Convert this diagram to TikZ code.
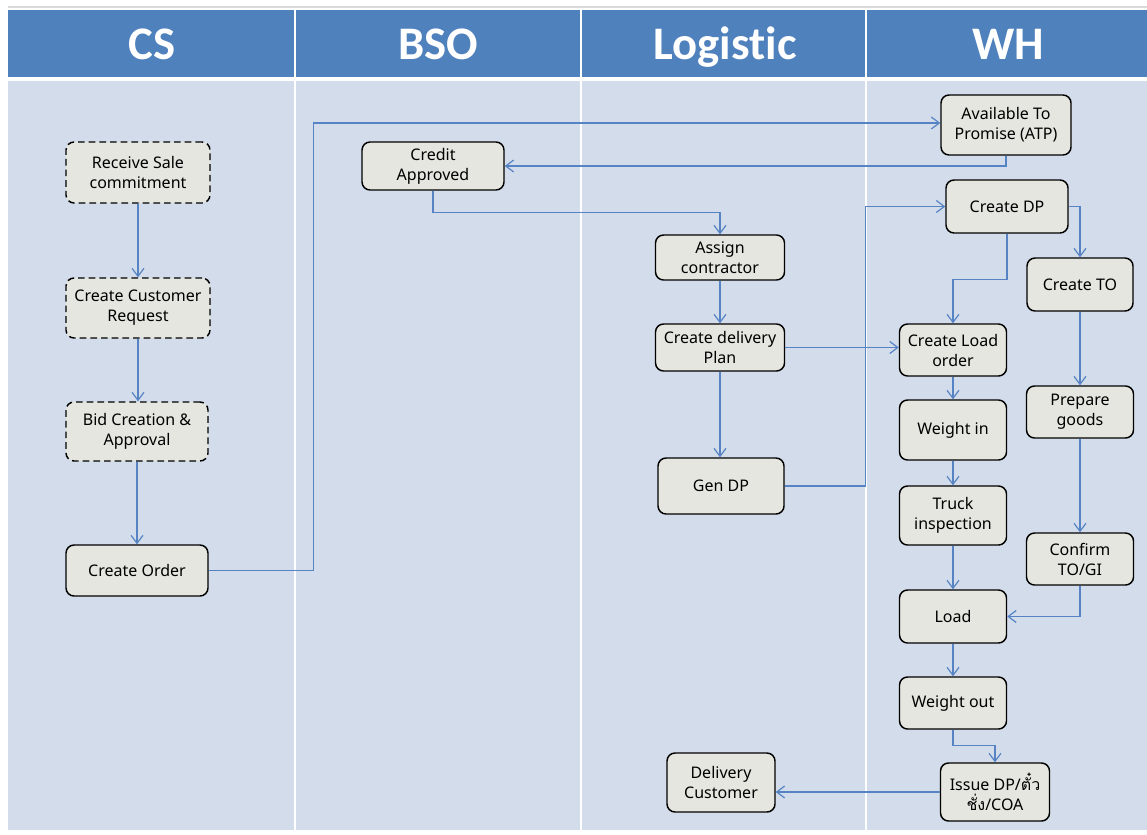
\documentclass[tikz,border=0pt]{standalone}
\usepackage{fontspec}
\setmainfont{Noto Sans}
\newfontfamily\headfont[Ligatures={NoCommon,NoRare,NoContextual}]{Carlito}
\newfontfamily\thaifont[Script=Thai]{Loma}
\usetikzlibrary{arrows.meta}
\definecolor{headblue}{HTML}{4F81BD}
\definecolor{lanebg}{HTML}{D3DCEA}
\definecolor{boxfill}{HTML}{E6E6E0}
\definecolor{linkblue}{HTML}{5583C4}
\tikzset{
  box/.style={draw=black, fill=boxfill, rounded corners=6pt, line width=1.1pt,
    align=center, inner sep=0pt, font=\fontsize{12}{15}\selectfont},
  dbox/.style={box, dash pattern=on 5pt off 3pt},
  arr/.style={draw=linkblue, line width=0.9pt, -{Straight Barb[length=6pt,width=9pt]}},
  head/.style={font=\headfont\bfseries\fontsize{35}{40}\selectfont, text=white, anchor=base},
  sep/.style={draw=white, line width=1.5pt}
}
\begin{document}
\begin{tikzpicture}[x=0.75pt,y=-0.75pt]
\useasboundingbox (0,0) rectangle (1147,835);
\fill[white] (0,0) rectangle (1147,835);
% header and lanes
\draw[gray!30, line width=1pt] (8,7) -- (1147,7);
\fill[headblue] (8,10) rectangle (1147,76.5);
\fill[lanebg] (8,81) rectangle (1147,830);
\foreach \xx in {295,581,866} { \draw[sep] (\xx,10) -- (\xx,830); }
\node[head] (hcs) at (152,59) {CS};
\node[head] (hbso) at (438,59) {BSO};
\node[head] (hlog) at (725,59) {Logis{}tic};
\node[head] (hwh) at (1008,59) {WH};
% nodes
\node[dbox, minimum width={144*0.75pt}, minimum height={61*0.75pt}] (rsc) at (138,172.5) {Receive Sale\\commitment};
\node[dbox, minimum width={144*0.75pt}, minimum height={60*0.75pt}] (ccr) at (138,308) {Create Customer\\Request};
\node[dbox, minimum width={142*0.75pt}, minimum height={59*0.75pt}] (bid) at (137,431.5) {Bid Creation \&\\Approval};
\node[box, minimum width={142*0.75pt}, minimum height={51*0.75pt}] (co) at (137,570.5) {Create Order};
\node[box, minimum width={142*0.75pt}, minimum height={48*0.75pt}] (ca) at (433,166) {Credit\\Approved};
\node[box, minimum width={130*0.75pt}, minimum height={60*0.75pt}] (atp) at (1006,125) {Available To\\Promise (ATP)};
\node[box, minimum width={122*0.75pt}, minimum height={53*0.75pt}] (cdp) at (1007,206.5) {Create DP};
\node[box, minimum width={129*0.75pt}, minimum height={45*0.75pt}] (ac) at (720,257.5) {Assign\\contractor};
\node[box, minimum width={129*0.75pt}, minimum height={47*0.75pt}] (cplan) at (720,347.5) {Create delivery\\Plan};
\node[box, minimum width={126*0.75pt}, minimum height={56*0.75pt}] (gd) at (721,486) {Gen DP};
\node[box, minimum width={106*0.75pt}, minimum height={53*0.75pt}] (cto) at (1080,284.5) {Create TO};
\node[box, minimum width={107*0.75pt}, minimum height={52*0.75pt}] (clo) at (953,350) {Create Load\\order};
\node[box, minimum width={107*0.75pt}, minimum height={60*0.75pt}] (wi) at (953,430) {Weight in};
\node[box, minimum width={107*0.75pt}, minimum height={52*0.75pt}] (pg) at (1080,412) {Prepare\\goods};
\node[box, minimum width={107*0.75pt}, minimum height={59*0.75pt}] (ti) at (953,515.5) {Truck\\inspection};
\node[box, minimum width={107*0.75pt}, minimum height={52*0.75pt}] (conf) at (1080,559) {Confirm\\TO/GI};
\node[box, minimum width={107*0.75pt}, minimum height={53*0.75pt}] (load) at (953,616.5) {Load};
\node[box, minimum width={107*0.75pt}, minimum height={52*0.75pt}] (wo) at (953,703) {Weight out};
\node[box, minimum width={109*0.75pt}, minimum height={58*0.75pt}] (iss) at (995,792) {Issue DP/{\thaifont ตั๋ว}\\{\thaifont ชั่ง}/COA};
\node[box, minimum width={108*0.75pt}, minimum height={59*0.75pt}] (dc) at (721,782.5) {Delivery\\Customer};
% connectors
\draw[arr] (rsc.south) -- (rsc.south |- ccr.north);
\draw[arr] (ccr.south) -- (ccr.south |- bid.north);
\draw[arr] (bid.south) -- (bid.south |- co.north);
\draw[arr] (co.east) -- ++(105,0) |- ([yshift=1.5pt]atp.west);
\draw[arr] (atp.south) |- (ca.east);
\draw[arr] (ca.south) -- ++(0,22) -| (ac.north);
\draw[arr] (ac.south) -- (ac.south |- cplan.north);
\draw[arr] (cplan.south) -- (cplan.south |- gd.north);
\draw[arr] (cplan.east) -- (cplan.east -| clo.west);
\draw[arr] (gd.east) -- ++(81,0) |- (cdp.west);
\draw[arr] (cdp.east) -| (cto.north);
\draw[arr] (cdp.south) -- ++(0,46) -| (clo.north);
\draw[arr] (cto.south) -- (cto.south |- pg.north);
\draw[arr] (clo.south) -- (clo.south |- wi.north);
\draw[arr] (wi.south) -- (wi.south |- ti.north);
\draw[arr] (pg.south) -- (pg.south |- conf.north);
\draw[arr] (ti.south) -- (ti.south |- load.north);
\draw[arr] (conf.south) |- (load.east);
\draw[arr] (load.south) -- (load.south |- wo.north);
\draw[arr] (wo.south) -- ++(0,16) -| (iss.north);
\draw[arr] (iss.west) -- (iss.west -| dc.east);
\end{tikzpicture}
\end{document}
